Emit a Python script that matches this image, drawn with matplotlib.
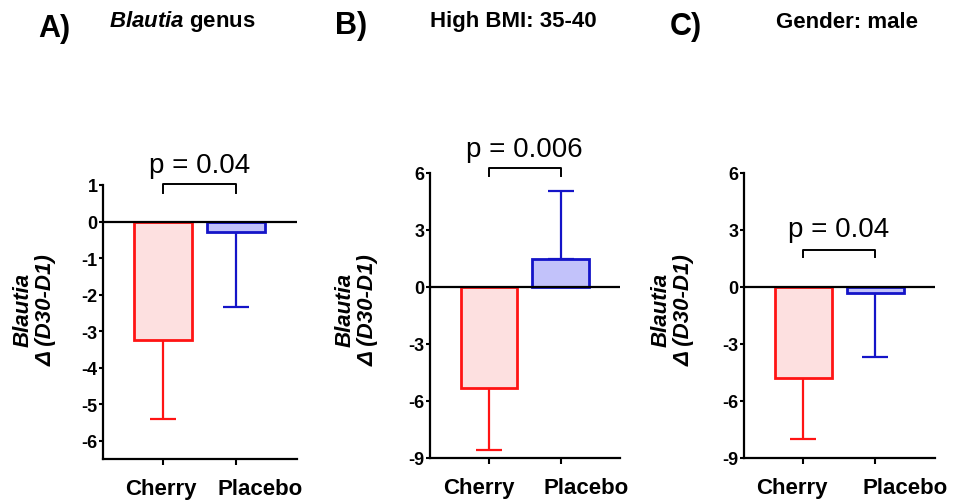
import matplotlib.pyplot as plt
from matplotlib.transforms import ScaledTranslation

plt.rcParams['font.family'] = ['Liberation Sans', 'DejaVu Sans']
plt.rcParams['axes.unicode_minus'] = False
plt.rcParams['mathtext.fontset'] = 'custom'
plt.rcParams['mathtext.it'] = 'Liberation Sans:bold:italic'
plt.rcParams['mathtext.rm'] = 'Liberation Sans:bold'

groups = ['Cherry', 'Placebo']

# panel A: Blautia genus
a_mean = [-3.25, -0.30]
a_err = [2.15, 2.03]
a_p = 'p = 0.04'

# panel B: High BMI 35-40
b_mean = [-5.30, 1.47]
b_err = [3.30, 3.58]
b_p = 'p = 0.006'

# panel C: male
c_mean = [-4.80, -0.30]
c_err = [3.20, 3.40]
c_p = 'p = 0.04'

edge_colors = ['#ff1414', '#1414c8']
fill_colors = ['#fde0e0', '#c2c2fa']

fig = plt.figure(figsize=(9.55, 5.02), dpi=100)


def panel(rect, mean, err, ylim, yticks, p_text, br_top, br_bot, p_y, shifts):
    ax = fig.add_axes(rect)
    x = [0, 1]
    for i in x:
        lower = err[i] if mean[i] < 0 else 0
        upper = err[i] if mean[i] > 0 else 0
        ax.errorbar(i, mean[i], yerr=[[lower], [upper]], color=edge_colors[i],
                    lw=1.6, capsize=9.5, capthick=1.6, zorder=2)
        ax.bar(i, mean[i], width=0.79, color=fill_colors[i],
               edgecolor=edge_colors[i], linewidth=2, zorder=3)
    ax.axhline(0, color='black', lw=1.6, zorder=4)
    ax.set_xlim(-0.82, 1.83)
    ax.set_ylim(*ylim)
    ax.set_yticks(yticks)
    ax.set_xticks(x)
    ax.set_xticklabels([])
    # group names sit a bit off their ticks in the original
    for i, dx in zip(x, shifts):
        tr = ax.get_xaxis_transform() + ScaledTranslation(
            dx / 100, -0.19, fig.dpi_scale_trans)
        ax.text(i, 0, groups[i], transform=tr, ha='center', va='top',
                fontsize=16, fontweight='bold')
    for lab in ax.get_yticklabels():
        lab.set_fontweight('bold')
        lab.set_fontsize(13)
    ax.spines['top'].set_visible(False)
    ax.spines['right'].set_visible(False)
    ax.spines['left'].set_linewidth(1.6)
    ax.spines['bottom'].set_linewidth(1.6)
    ax.tick_params(axis='y', direction='out', length=3, width=1.5, pad=1)
    ax.tick_params(axis='x', direction='out', length=4, width=1.5)
    # significance bracket
    ax.plot([0, 0, 1, 1], [br_bot, br_top, br_top, br_bot], color='black',
            lw=1.4, clip_on=False)
    ax.text(0.5, p_y, p_text, ha='center', va='bottom', fontsize=20)
    return ax


panel([0.1079, 0.0837, 0.2031, 0.5458], a_mean, a_err, (-6.5, 1),
      [-6, -5, -4, -3, -2, -1, 0, 1], a_p, 1.04, 0.77, 1.18, (-2, 24))
panel([0.4503, 0.0857, 0.1990, 0.5677], b_mean, b_err, (-9, 6),
      [-9, -6, -3, 0, 3, 6], b_p, 6.26, 5.84, 6.58, (-10, 26))
panel([0.7790, 0.0857, 0.2000, 0.5677], c_mean, c_err, (-9, 6),
      [-9, -6, -3, 0, 3, 6], c_p, 1.95, 1.58, 2.37, (-11, 30))

# y labels
for xc in [35, 357, 673]:
    fig.text(xc / 955, 1 - 310 / 502, 'Blautia\nΔ (D30-D1)', rotation=90,
             ha='center', va='center', fontsize=16, fontweight='bold',
             fontstyle='italic', multialignment='center', linespacing=1.15)

# panel letters and titles
fig.text(54 / 955, 1 - 29 / 502, 'A)', ha='center', va='center',
         fontsize=22, fontweight='bold')
fig.text(351 / 955, 1 - 26 / 502, 'B)', ha='center', va='center',
         fontsize=22, fontweight='bold')
fig.text(686 / 955, 1 - 27 / 502, 'C)', ha='center', va='center',
         fontsize=22, fontweight='bold')
fig.text(182 / 955, 1 - 22 / 502, r'$\it{Blautia}$ genus',
         ha='center', va='center', fontsize=16, fontweight='bold')
fig.text(513 / 955, 1 - 21 / 502, 'High BMI: 35-40', ha='center',
         va='center', fontsize=16, fontweight='bold')
fig.text(847 / 955, 1 - 22 / 502, 'Gender: male', ha='center',
         va='center', fontsize=16, fontweight='bold')

fig.savefig('out.png', dpi=100)
